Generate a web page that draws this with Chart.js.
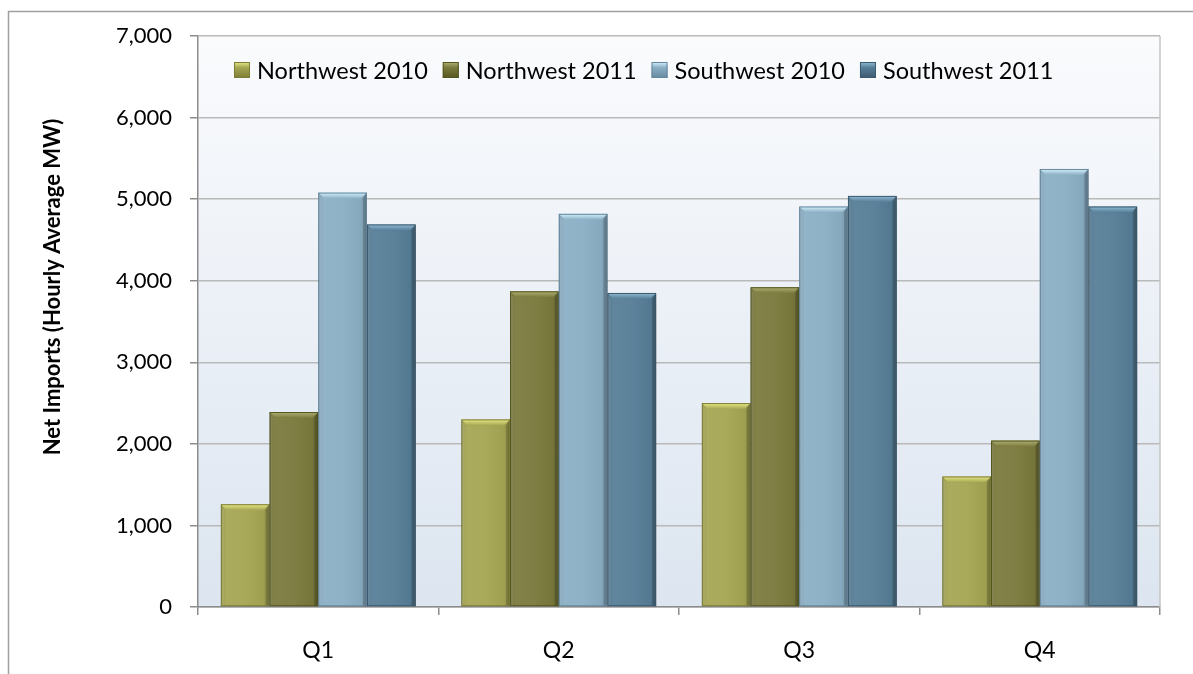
<!DOCTYPE html>
<html>
<head>
<meta charset="utf-8">
<script src="https://cdn.jsdelivr.net/npm/chart.js@4.4.1/dist/chart.umd.min.js"></script>
<style>
  html, body { margin: 0; padding: 0; background: #ffffff; }
  #wrap { width: 1193px; height: 674px; position: relative; }
</style>
</head>
<body>
<div id="wrap"><canvas id="c" width="1193" height="674"></canvas></div>
<script>
// Quarterly net imports, hourly average MW
const quarters = ['Q1', 'Q2', 'Q3', 'Q4'];
const seriesNames = ['Northwest 2010', 'Northwest 2011', 'Southwest 2010', 'Southwest 2011'];
const northwest2010 = [1260, 2300, 2500, 1600];
const northwest2011 = [2390, 3870, 3920, 2040];
const southwest2010 = [5080, 4820, 4910, 5370];
const southwest2011 = [4690, 3850, 5040, 4910];
const yTickValues = [0, 1000, 2000, 3000, 4000, 5000, 6000, 7000];
const yTitle = 'Net Imports (Hourly Average MW)';

// fill / bevel-highlight / edge colours per series
const palette = [
  { fill: '#a5a653', light: '#eaea86', dark: '#7d7e36' },
  { fill: '#7a7a3d', light: '#b2b276', dark: '#55561f' },
  { fill: '#8bafc5', light: '#d6f1fc', dark: '#66889e' },
  { fill: '#567e97', light: '#93bcd6', dark: '#3a5a6f' }
];

const FONT = 'Lato, "Open Sans", "DejaVu Sans", sans-serif';
const seriesValues = [northwest2010, northwest2011, southwest2010, southwest2011];

const datasets = seriesNames.map((name, i) => ({
  label: name,
  data: seriesValues[i],
  backgroundColor: palette[i].fill,
  borderColor: palette[i].dark,
  borderWidth: 1,
  borderSkipped: 'bottom'
}));

// page frame, plot-area gradient and right border
const framePlugin = {
  id: 'frame',
  beforeDraw(chart) {
    const { ctx, chartArea: a } = chart;
    ctx.save();
    ctx.fillStyle = '#ffffff';
    ctx.fillRect(0, 0, chart.width, chart.height);
    ctx.strokeStyle = '#a0a0a0';
    ctx.lineWidth = 1.5;
    ctx.beginPath();
    ctx.moveTo(8.5, chart.height + 5);
    ctx.lineTo(8.5, 11.5);
    ctx.lineTo(chart.width + 5, 11.5);
    ctx.stroke();
    const g = ctx.createLinearGradient(0, a.top, 0, a.bottom);
    g.addColorStop(0, '#fafbfd');
    g.addColorStop(1, '#dce5f0');
    ctx.fillStyle = g;
    ctx.fillRect(a.left, a.top, a.right - a.left, a.bottom - a.top);
    ctx.restore();
  },
  beforeDatasetsDraw(chart) {
    const { ctx, chartArea: a } = chart;
    ctx.save();
    ctx.strokeStyle = '#c4c4c4';
    ctx.lineWidth = 1.5;
    ctx.beginPath();
    ctx.moveTo(a.right, a.top);
    ctx.lineTo(a.right, a.bottom);
    ctx.stroke();
    ctx.restore();
  }
};

// soft drop shadow under each bar
const shadowPlugin = {
  id: 'barShadow',
  beforeDatasetDraw(chart) {
    const ctx = chart.ctx;
    ctx.save();
    ctx.shadowColor = 'rgba(0,0,0,0.28)';
    ctx.shadowBlur = 7;
    ctx.shadowOffsetX = 3;
    ctx.shadowOffsetY = 3;
  },
  afterDatasetDraw(chart) {
    chart.ctx.restore();
  }
};

// bevelled top and shaded sides on every bar
const bevelPlugin = {
  id: 'bevel',
  afterDatasetsDraw(chart) {
    const ctx = chart.ctx;
    chart.data.datasets.forEach((ds, di) => {
      const meta = chart.getDatasetMeta(di);
      const col = palette[di];
      meta.data.forEach(el => {
        const p = el.getProps(['x', 'y', 'base', 'width'], true);
        const l = p.x - p.width / 2, r = p.x + p.width / 2;
        const t = p.y, b = p.base;
        const bv = 6;
        ctx.save();
        // horizontal shading across the bar
        const hg = ctx.createLinearGradient(l, 0, r, 0);
        hg.addColorStop(0, 'rgba(0,0,0,0.10)');
        hg.addColorStop(0.12, 'rgba(255,255,255,0.06)');
        hg.addColorStop(0.5, 'rgba(255,255,255,0.04)');
        hg.addColorStop(0.88, 'rgba(0,0,0,0.04)');
        hg.addColorStop(1, 'rgba(0,0,0,0.22)');
        ctx.fillStyle = hg;
        ctx.fillRect(l, t, r - l, b - t);
        // top bevel
        const tg = ctx.createLinearGradient(0, t, 0, t + bv);
        tg.addColorStop(0, col.light);
        tg.addColorStop(1, col.fill);
        ctx.fillStyle = tg;
        ctx.beginPath();
        ctx.moveTo(l, t);
        ctx.lineTo(r, t);
        ctx.lineTo(r - bv, t + bv);
        ctx.lineTo(l + bv, t + bv);
        ctx.closePath();
        ctx.fill();
        // left and right bevels
        ctx.fillStyle = 'rgba(255,255,255,0.10)';
        ctx.beginPath();
        ctx.moveTo(l, t);
        ctx.lineTo(l + 3, t + bv);
        ctx.lineTo(l + 3, b);
        ctx.lineTo(l, b);
        ctx.closePath();
        ctx.fill();
        ctx.fillStyle = 'rgba(0,0,0,0.16)';
        ctx.beginPath();
        ctx.moveTo(r, t);
        ctx.lineTo(r - 4, t + bv);
        ctx.lineTo(r - 4, b);
        ctx.lineTo(r, b);
        ctx.closePath();
        ctx.fill();
        // outline
        ctx.strokeStyle = col.dark;
        ctx.lineWidth = 1;
        ctx.strokeRect(l + 0.5, t + 0.5, r - l - 1, b - t - 1);
        ctx.restore();
      });
    });
  }
};

// legend row drawn inside the plot area, plus the rotated value-axis title
const labelsPlugin = {
  id: 'insideLegend',
  afterDraw(chart) {
    const ctx = chart.ctx;
    ctx.save();
    ctx.font = '23.5px ' + FONT;
    ctx.textBaseline = 'middle';
    const cy = 70, box = 16;
    let x = 234;
    chart.data.datasets.forEach((ds, i) => {
      const col = palette[i];
      const g = ctx.createLinearGradient(0, cy - box / 2, 0, cy + box / 2);
      g.addColorStop(0, col.light);
      g.addColorStop(0.35, col.fill);
      g.addColorStop(1, col.dark);
      ctx.fillStyle = g;
      ctx.fillRect(x, cy - box / 2, box, box);
      ctx.strokeStyle = col.dark;
      ctx.lineWidth = 1;
      ctx.strokeRect(x + 0.5, cy - box / 2 + 0.5, box - 1, box - 1);
      ctx.fillStyle = '#000000';
      const tx = x + box + 7;
      ctx.fillText(ds.label, tx, cy + 1);
      x = tx + ctx.measureText(ds.label).width + 15;
    });
    // value-axis title
    ctx.translate(53, 287);
    ctx.rotate(-Math.PI / 2);
    ctx.font = 'bold 22px ' + FONT;
    ctx.textAlign = 'center';
    ctx.fillStyle = '#000000';
    ctx.fillText(yTitle, 0, 0);
    ctx.restore();
  }
};

new Chart(document.getElementById('c'), {
  type: 'bar',
  data: { labels: quarters, datasets },
  options: {
    responsive: false,
    animation: false,
    devicePixelRatio: 1,
    layout: { padding: { top: 36, right: 33, left: 0, bottom: 0 } },
    datasets: { bar: { categoryPercentage: 0.81, barPercentage: 1.0 } },
    plugins: {
      legend: { display: false },
      tooltip: { enabled: false }
    },
    scales: {
      x: {
        afterFit(scale) { scale.height = 67; },
        grid: {
          display: true,
          drawOnChartArea: false,
          drawTicks: true,
          tickLength: 8,
          offset: true,
          color: '#8c8c8c',
          lineWidth: 1.5
        },
        border: { display: true, color: '#8c8c8c', width: 1.5 },
        ticks: {
          color: '#000000',
          padding: 22,
          font: { family: FONT, size: 23 }
        }
      },
      y: {
        min: 0,
        max: 7000,
        afterFit(scale) { scale.width = 198; },
        afterBuildTicks(scale) { scale.ticks = yTickValues.map(v => ({ value: v })); },
        grid: {
          color: '#b9b9b9',
          tickColor: '#8c8c8c',
          lineWidth: 1.5,
          tickLength: 8,
          drawTicks: true
        },
        border: { display: true, color: '#8c8c8c', width: 1.5 },
        ticks: {
          color: '#000000',
          padding: 18,
          font: { family: FONT, size: 22 },
          callback: v => Number(v).toLocaleString('en-US')
        }
      }
    }
  },
  plugins: [framePlugin, shadowPlugin, bevelPlugin, labelsPlugin]
});
</script>
</body>
</html>
